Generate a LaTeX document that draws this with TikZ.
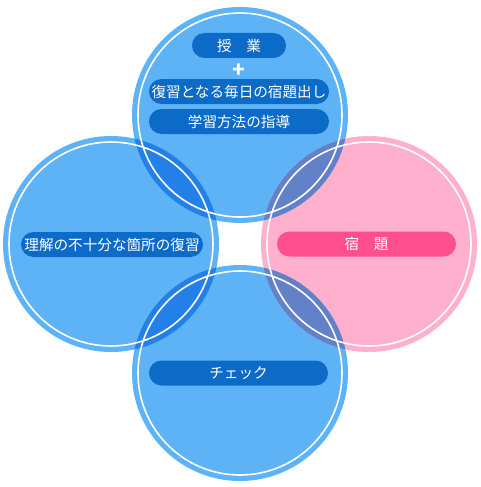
\documentclass[tikz,border=0pt]{standalone}
\usepackage{fontspec}
\setmainfont{Noto Sans CJK JP}
\definecolor{bubbleblue}{HTML}{5DB3F5}
\definecolor{bubblepink}{HTML}{FFB0CD}
\definecolor{lensblue}{HTML}{2280E8}
\definecolor{lenspink}{HTML}{6281C8}
\definecolor{pillblue}{HTML}{0D6BC8}
\definecolor{pillpink}{HTML}{FF4F8D}
\begin{document}
\begin{tikzpicture}[x=1pt, y=-1pt, node distance=30pt]

% Styles
\tikzstyle{ring} = [draw=white, line width=1.6pt]
\tikzstyle{pill} = [rectangle, rounded corners=12.5pt, fill=pillblue, text=white, minimum height=25pt, inner sep=0pt, font=\fontsize{14.6}{14.6}\selectfont]

\useasboundingbox (0,0) rectangle (480,487);

% Circle centres
\coordinate (ctop) at (240,115);
\coordinate (cleft) at (111,244);
\coordinate (cright) at (369,244);
\coordinate (cbottom) at (240,373);

% Bubbles
\foreach \c in {ctop,cleft,cbottom}
  \fill [bubbleblue] (\c) circle (108);
\fill [bubblepink] (cright) circle (108);

% Overlaps
\foreach \c in {ctop,cbottom} {
  \begin{scope}
    \clip (\c) circle (108);
    \fill [lensblue] (cleft) circle (108);
    \fill [lenspink] (cright) circle (108);
  \end{scope}
}

% Rings
\foreach \c in {ctop,cleft,cright,cbottom}
  \draw [ring] (\c) circle (102);

% Nodes
\node [pill, minimum width=94pt] (jugyo) at (239,45.5) {授　業};
\node [text=white, inner sep=0pt, font=\fontsize{21}{21}\selectfont\bfseries, below of=jugyo, node distance=25pt] (plus) {+};
\node [pill, minimum width=180pt, below of=jugyo, node distance=46pt] (dashi) {復習となる毎日の宿題出し};
\node [pill, minimum width=180pt, below of=dashi] (shido) {学習方法の指導};
\node [pill, minimum width=182pt] (fukushu) at (112,244.5) {理解の不十分な箇所の復習};
\node [pill, fill=pillpink, minimum width=179pt] (shukudai) at (366.5,244) {宿　題};
\node [pill, minimum width=179pt] (check) at (238.5,373) {チェック};

\end{tikzpicture}
\end{document}
